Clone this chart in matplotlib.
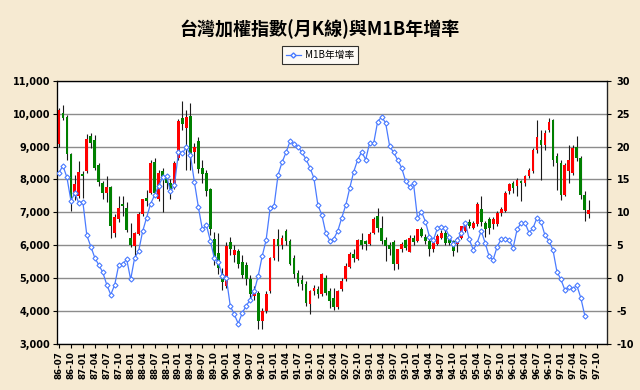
import numpy as np
import matplotlib
matplotlib.use("Agg")
import matplotlib.pyplot as plt
from matplotlib.lines import Line2D

plt.rcParams['font.family'] = ['Noto Sans CJK TC', 'DejaVu Sans']

# ==========================================
# DATA  (monthly K-line, ROC 86-07 .. 97-08)
# ==========================================
open_ = [9090, 10030, 9890, 8780, 7500, 7500, 8170, 8270, 9330, 9210,
         8440, 7890, 7600, 7770, 6360, 6790, 7264, 7143, 6234, 5982,
         6335, 6940, 7446, 7597, 8537, 7395, 8254, 8050, 7900, 7750,
         8660, 9870, 9567, 9920, 8840, 9163, 8355, 8203, 7699, 6180,
         5750, 5120, 4770, 6100, 5700, 5830, 5500, 5400, 4961, 4456,
         4557, 3699, 4002, 4607, 5628, 6184, 6002, 6436, 6133, 5628,
         5163, 4950, 4820, 4203, 4607, 4658, 4506, 5012, 4607, 4400,
         4113, 4668, 4971, 5325, 5729, 5578, 6153, 6133, 6032, 6385,
         6890, 6537, 6153, 6000, 6100, 5426, 5880, 6153, 5800, 6234,
         6133, 6486, 6254, 6133, 5880, 6032, 6234, 6385, 6234, 6133,
         6032, 6234, 6436, 6700, 6537, 6638, 7100, 6689, 6790, 6638,
         6638, 6992, 7042, 7637, 7900, 7789, 7940, 7890, 8092, 8244,
         8900, 9203, 9052, 9506, 9809, 8698, 8496, 7537, 8244, 8193,
         9001, 8647, 7537, 6950]
high = [10180, 10256, 9950, 8800, 8150, 8560, 8250, 9380, 9400, 9340,
        8500, 7950, 8090, 7800, 6950, 7500, 7496, 7300, 6690, 6400,
        7000, 7420, 7690, 8600, 8660, 8300, 8350, 8150, 8000, 8550,
        9850, 10390, 10100, 10330, 9100, 9300, 8600, 8300, 7750, 6400,
        6380, 5300, 6100, 6250, 6000, 5900, 5700, 5500, 5100, 4750,
        4600, 4100, 4600, 5650, 6200, 6487, 6300, 6500, 6200, 5700,
        5250, 5100, 4900, 4650, 4800, 4750, 5150, 5100, 4700, 4700,
        4650, 5000, 5450, 5800, 5900, 6200, 6385, 6150, 6400, 6850,
        7140, 6900, 6250, 6100, 6150, 5900, 6100, 6200, 6300, 6300,
        6500, 6550, 6350, 6200, 6150, 6330, 6450, 6450, 6300, 6150,
        6250, 6600, 6700, 6790, 6750, 7300, 7496, 6750, 6850, 6850,
        7050, 7150, 7650, 7900, 7950, 8050, 7980, 8150, 8350, 8950,
        9809, 9506, 9500, 9859, 9830, 8800, 8600, 8500, 9049, 9050,
        9309, 8700, 7650, 7376]
low = [9000, 9800, 8600, 7040, 7380, 7450, 7450, 8200, 8950, 8300,
       7800, 7400, 7300, 6220, 6250, 6700, 6900, 6400, 5950, 5650,
       6300, 6900, 7200, 7550, 7500, 7350, 7000, 7700, 7400, 7700,
       8600, 9500, 8300, 8300, 8500, 8200, 7900, 7500, 6300, 5400,
       5120, 4650, 4700, 5700, 5500, 5300, 5000, 4800, 4400, 4350,
       3446, 3450, 3950, 4550, 5550, 5527, 5900, 6000, 5400, 5000,
       4750, 4650, 4150, 3900, 4500, 4400, 4450, 4500, 4103, 4044,
       4050, 4600, 4900, 5300, 5500, 5550, 5900, 5850, 6000, 6350,
       6400, 6050, 5528, 5700, 5250, 5275, 5800, 5850, 5800, 6000,
       6100, 6250, 6050, 5679, 5800, 6000, 6200, 6000, 6000, 5679,
       5800, 6200, 6400, 6537, 6500, 6600, 6600, 6250, 6335, 6500,
       6600, 6900, 7000, 7550, 7600, 7500, 7350, 7800, 8050, 8200,
       8800, 7991, 8900, 9450, 8400, 7690, 7384, 7500, 7900, 8150,
       8550, 7400, 6750, 6840]
close = [10100, 9870, 8760, 7400, 7850, 8230, 8100, 9230, 9110, 8360,
         7930, 7590, 7760, 6580, 6870, 7140, 7193, 6466, 6002, 6365,
         6940, 7395, 7345, 8507, 7597, 8203, 8052, 7900, 7699, 8500,
         9770, 9670, 9890, 8710, 8980, 8304, 8153, 7648, 6486, 5630,
         5300, 4870, 5980, 5900, 5850, 5425, 5100, 4960, 4506, 4607,
         3699, 4002, 4506, 5600, 6184, 5982, 6234, 6133, 5426, 5123,
         4850, 4820, 4250, 4607, 4708, 4506, 5113, 4557, 4305, 4113,
         4618, 4921, 5376, 5729, 5628, 6153, 6020, 6032, 6335, 6790,
         6537, 6133, 5980, 5900, 5426, 5880, 6032, 5930, 6234, 6100,
         6486, 6290, 6133, 5880, 6082, 6285, 6385, 6082, 6082, 5830,
         6234, 6588, 6638, 6600, 6689, 7244, 6700, 6486, 6537, 6790,
         6992, 7093, 7597, 7870, 7750, 7991, 7890, 8092, 8294, 8900,
         9304, 9052, 9405, 9759, 8597, 8500, 7537, 8445, 8597, 8951,
         8647, 7537, 7062, 7062]

# M1B 年增率 (%), 86-07 .. 97-07
m1b = [16.0, 17.1, 15.3, 11.8, 12.9, 11.4, 11.6, 6.5, 4.8, 3.1,
       2.0, 0.9, -1.0, -2.5, -1.0, 2.0, 2.1, 2.9, -0.2, 3.1,
       4.1, 7.1, 9.2, 11.3, 12.6, 14.0, 15.3, 15.5, 13.2, 14.1,
       19.2, 19.0, 19.9, 18.7, 14.6, 10.8, 7.4, 8.1, 5.7, 3.0,
       2.5, 0.4, 0.1, -4.2, -5.5, -6.9, -5.3, -4.2, -3.3, -2.0,
       0.3, 3.3, 5.8, 10.6, 11.0, 15.7, 17.6, 19.1, 20.8, 20.4,
       20.0, 19.1, 18.1, 16.8, 15.2, 11.1, 9.6, 6.8, 5.7, 6.0,
       7.2, 9.2, 11.1, 13.7, 16.2, 18.0, 19.2, 18.0, 20.6, 20.5,
       23.8, 24.5, 23.6, 20.1, 19.1, 18.0, 16.8, 14.8, 13.9, 14.4,
       9.1, 10.1, 8.6, 6.3, 5.8, 7.6, 7.8, 7.6, 6.3, 5.2,
       5.8, 6.9, 8.4, 5.9, 4.3, 5.4, 7.2, 5.3, 3.3, 2.8,
       4.8, 5.9, 6.0, 5.8, 4.6, 7.4, 8.4, 8.4, 6.9, 7.6,
       9.2, 8.6, 6.5, 5.7, 4.3, 1.0, -0.2, -1.8, -1.3, -1.6,
       -1.1, -3.0, -5.7]

# category axis: 86-07 .. 97-12
months = [f"{86 + (6 + k) // 12}-{(6 + k) % 12 + 1:02d}" for k in range(138)]

# ==========================================
# FIGURE
# ==========================================
bg = "#F6EAD2"
fig = plt.figure(figsize=(6.4, 3.9), dpi=100, facecolor=bg)
ax = fig.add_axes([0.089, 0.118, 0.859, 0.675])
ax.set_facecolor("white")

x = np.arange(len(close))
o = np.array(open_)
c = np.array(close)
up = c >= o

ax.vlines(x, low, high, color="#1a1a1a", lw=0.8, zorder=2)
ax.bar(x, np.abs(c - o), bottom=np.minimum(o, c), width=0.7,
       color=np.where(up, "#FF0000", "#008000"), edgecolor="none", zorder=3)

ax.set_xlim(-0.5, len(months) - 0.5)
ax.set_ylim(3000, 11000)
ax.set_yticks(range(3000, 11001, 1000))
ax.set_yticklabels([f"{v:,}" for v in range(3000, 11001, 1000)],
                   fontsize=7, fontweight="bold", family="DejaVu Sans")
ax.set_xticks(range(0, len(months), 3))
ax.set_xticklabels(months[::3], rotation=90, fontsize=6.3,
                   fontweight="bold", family="DejaVu Sans")
ax.set_xticks(range(0, len(months), 12), minor=True)
ax.grid(axis="y", color="#8c8c8c", lw=1.0, zorder=0)
ax.grid(axis="x", which="minor", color="#c0c0c0", lw=1.0, zorder=0)
ax.tick_params(axis="x", which="minor", length=0)
ax.tick_params(axis="x", length=3, pad=2)
ax.tick_params(axis="y", length=3, pad=2)
for s in ax.spines.values():
    s.set_color("#222222")
    s.set_linewidth(0.9)

ax2 = ax.twinx()
ax2.plot(np.arange(len(m1b)), m1b, color="#4A7BFF", lw=0.9, marker="D",
         ms=2.6, mfc="white", mec="#4A7BFF", mew=0.8, zorder=4)
ax2.set_ylim(-10, 30)
ax2.set_yticks(range(-10, 31, 5))
ax2.set_yticklabels([str(v) for v in range(-10, 31, 5)], fontsize=7,
                    fontweight="bold", family="DejaVu Sans")
ax2.tick_params(axis="y", length=3, pad=4)
ax2.spines["right"].set_color("#222222")

fig.text(0.5, 0.925, "台灣加權指數(月K線)與M1B年增率", ha="center", va="center",
         fontsize=13, fontweight="bold", family=["Noto Sans CJK TC", "DejaVu Sans"])

handle = Line2D([], [], color="#4A7BFF", lw=0.9, marker="D", ms=2.6,
                mfc="white", mec="#4A7BFF")
leg = fig.legend([handle], ["M1B年增率"], loc="center",
                 bbox_to_anchor=(0.5, 0.858), fontsize=7, frameon=True,
                 fancybox=False, edgecolor="black", handlelength=1.6,
                 handletextpad=0.4, borderpad=0.4)
leg.get_frame().set_linewidth(0.8)

fig.savefig("out.png", dpi=100, facecolor=bg)
